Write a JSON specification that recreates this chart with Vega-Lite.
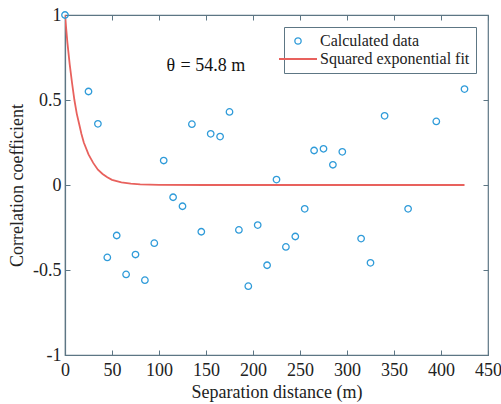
{
  "$schema": "https://vega.github.io/schema/vega-lite/v6.json",
  "width": 423,
  "height": 340,
  "autosize": "none",
  "padding": {"left": 65, "top": 15, "right": 13, "bottom": 49},
  "background": "white",
  "config": {
    "font": "Liberation Serif",
    "view": {"stroke": "#5d7684", "strokeWidth": 1.2},
    "axis": {
      "grid": false,
      "domainColor": "#5d7684",
      "tickColor": "#5d7684",
      "domainWidth": 1.2,
      "tickWidth": 1,
      "tickSize": -5,
      "labelFont": "Liberation Serif",
      "labelFontSize": 18,
      "labelColor": "#222222",
      "titleFont": "Liberation Serif",
      "titleFontSize": 18,
      "titleFontWeight": "normal",
      "titleColor": "#222222"
    },
    "legend": {
      "labelFont": "Liberation Serif",
      "labelFontSize": 16,
      "labelColor": "#222222"
    }
  },
  "datasets": {
    "obs": [
      {"distance": 0, "corr": 1.0, "series": "Calculated data"},
      {"distance": 25, "corr": 0.55, "series": "Calculated data"},
      {"distance": 35, "corr": 0.36, "series": "Calculated data"},
      {"distance": 45, "corr": -0.426, "series": "Calculated data"},
      {"distance": 55, "corr": -0.297, "series": "Calculated data"},
      {"distance": 65, "corr": -0.526, "series": "Calculated data"},
      {"distance": 75, "corr": -0.409, "series": "Calculated data"},
      {"distance": 85, "corr": -0.56, "series": "Calculated data"},
      {"distance": 95, "corr": -0.342, "series": "Calculated data"},
      {"distance": 105, "corr": 0.144, "series": "Calculated data"},
      {"distance": 115, "corr": -0.072, "series": "Calculated data"},
      {"distance": 125, "corr": -0.125, "series": "Calculated data"},
      {"distance": 135, "corr": 0.358, "series": "Calculated data"},
      {"distance": 145, "corr": -0.275, "series": "Calculated data"},
      {"distance": 155, "corr": 0.301, "series": "Calculated data"},
      {"distance": 165, "corr": 0.285, "series": "Calculated data"},
      {"distance": 175, "corr": 0.43, "series": "Calculated data"},
      {"distance": 185, "corr": -0.264, "series": "Calculated data"},
      {"distance": 195, "corr": -0.595, "series": "Calculated data"},
      {"distance": 205, "corr": -0.236, "series": "Calculated data"},
      {"distance": 215, "corr": -0.472, "series": "Calculated data"},
      {"distance": 225, "corr": 0.032, "series": "Calculated data"},
      {"distance": 235, "corr": -0.364, "series": "Calculated data"},
      {"distance": 245, "corr": -0.303, "series": "Calculated data"},
      {"distance": 255, "corr": -0.14, "series": "Calculated data"},
      {"distance": 265, "corr": 0.203, "series": "Calculated data"},
      {"distance": 275, "corr": 0.213, "series": "Calculated data"},
      {"distance": 285, "corr": 0.119, "series": "Calculated data"},
      {"distance": 295, "corr": 0.195, "series": "Calculated data"},
      {"distance": 315, "corr": -0.315, "series": "Calculated data"},
      {"distance": 325, "corr": -0.458, "series": "Calculated data"},
      {"distance": 340, "corr": 0.407, "series": "Calculated data"},
      {"distance": 365, "corr": -0.14, "series": "Calculated data"},
      {"distance": 395, "corr": 0.374, "series": "Calculated data"},
      {"distance": 425, "corr": 0.564, "series": "Calculated data"}
    ],
    "fit": [
      {"distance": 0, "corr": 1.0, "series": "Squared exponential fit"},
      {"distance": 2.5, "corr": 0.84, "series": "Squared exponential fit"},
      {"distance": 5, "corr": 0.71, "series": "Squared exponential fit"},
      {"distance": 7.5, "corr": 0.6, "series": "Squared exponential fit"},
      {"distance": 10, "corr": 0.5, "series": "Squared exponential fit"},
      {"distance": 12.5, "corr": 0.42, "series": "Squared exponential fit"},
      {"distance": 15, "corr": 0.36, "series": "Squared exponential fit"},
      {"distance": 17.5, "corr": 0.3, "series": "Squared exponential fit"},
      {"distance": 20, "corr": 0.25, "series": "Squared exponential fit"},
      {"distance": 25, "corr": 0.18, "series": "Squared exponential fit"},
      {"distance": 30, "corr": 0.13, "series": "Squared exponential fit"},
      {"distance": 35, "corr": 0.09, "series": "Squared exponential fit"},
      {"distance": 40, "corr": 0.065, "series": "Squared exponential fit"},
      {"distance": 45, "corr": 0.045, "series": "Squared exponential fit"},
      {"distance": 50, "corr": 0.03, "series": "Squared exponential fit"},
      {"distance": 60, "corr": 0.015, "series": "Squared exponential fit"},
      {"distance": 70, "corr": 0.008, "series": "Squared exponential fit"},
      {"distance": 80, "corr": 0.004, "series": "Squared exponential fit"},
      {"distance": 100, "corr": 0.001, "series": "Squared exponential fit"},
      {"distance": 150, "corr": 0.0, "series": "Squared exponential fit"},
      {"distance": 425, "corr": 0.0, "series": "Squared exponential fit"}
    ],
    "note": [
      {"distance": 108, "corr": 0.7, "part": "θ", "style": "italic"},
      {"distance": 123, "corr": 0.7, "part": "= 54.8 m", "style": "normal"}
    ]
  },
  "resolve": {"axis": {"x": "independent", "y": "independent"}},
  "layer": [
    {
      "data": {"name": "fit"},
      "mark": {"type": "line", "strokeWidth": 1.8, "clip": true},
      "encoding": {
        "x": {"field": "distance", "type": "quantitative",
              "scale": {"domain": [0, 450], "nice": false},
              "axis": {"orient": "top", "labels": false, "title": null, "values": [0, 50, 100, 150, 200, 250, 300, 350, 400, 450], "domain": false}},
        "y": {"field": "corr", "type": "quantitative",
              "scale": {"domain": [-1, 1], "nice": false},
              "axis": {"orient": "right", "labels": false, "title": null, "values": [-1, -0.5, 0, 0.5, 1], "domain": false}},
        "color": {"field": "series", "type": "nominal",
                  "scale": {"domain": ["Calculated data", "Squared exponential fit"], "range": ["#2f9bd9", "#e8615d"]},
                  "legend": {
                    "title": null,
                    "orient": "top-right",
                    "offset": 12,
                    "padding": 6,
                    "strokeColor": "#5d7684",
                    "fillColor": "white",
                    "symbolSize": 1444,
                    "symbolStrokeWidth": 1.8,
                    "labelOffset": 14,
                    "rowPadding": 2,
                    "encode": {
                      "symbols": {
                        "update": {
                          "shape": {"signal": "datum.value === 'Calculated data' ? 'circle' : 'stroke'"},
                          "size": {"signal": "datum.value === 'Calculated data' ? 40 : 1444"},
                          "fill": {"value": "transparent"},
                          "strokeWidth": {"signal": "datum.value === 'Calculated data' ? 1.3 : 1.8"}
                        }
                      }
                    }
                  }}
      }
    },
    {
      "data": {"name": "obs"},
      "mark": {"type": "point", "filled": false, "size": 42, "strokeWidth": 1.3, "opacity": 1},
      "encoding": {
        "x": {"field": "distance", "type": "quantitative",
              "axis": {"orient": "bottom", "title": "Separation distance (m)", "values": [0, 50, 100, 150, 200, 250, 300, 350, 400, 450], "labelPadding": 11, "titlePadding": 4, "labelFlush": false}},
        "y": {"field": "corr", "type": "quantitative",
              "axis": {"orient": "left", "title": "Correlation coefficient", "values": [-1, -0.5, 0, 0.5, 1], "labelExpr": "'' + datum.value", "labelPadding": 9, "titlePadding": 6}},
        "color": {"field": "series", "type": "nominal"}
      }
    },
    {
      "data": {"name": "note"},
      "mark": {"type": "text", "fontSize": 18, "align": "left", "baseline": "middle", "color": "#111111"},
      "encoding": {
        "x": {"field": "distance", "type": "quantitative", "axis": null},
        "y": {"field": "corr", "type": "quantitative", "axis": null},
        "text": {"field": "part"},
        "fontStyle": {"field": "style", "type": "nominal", "scale": null}
      }
    }
  ]
}
